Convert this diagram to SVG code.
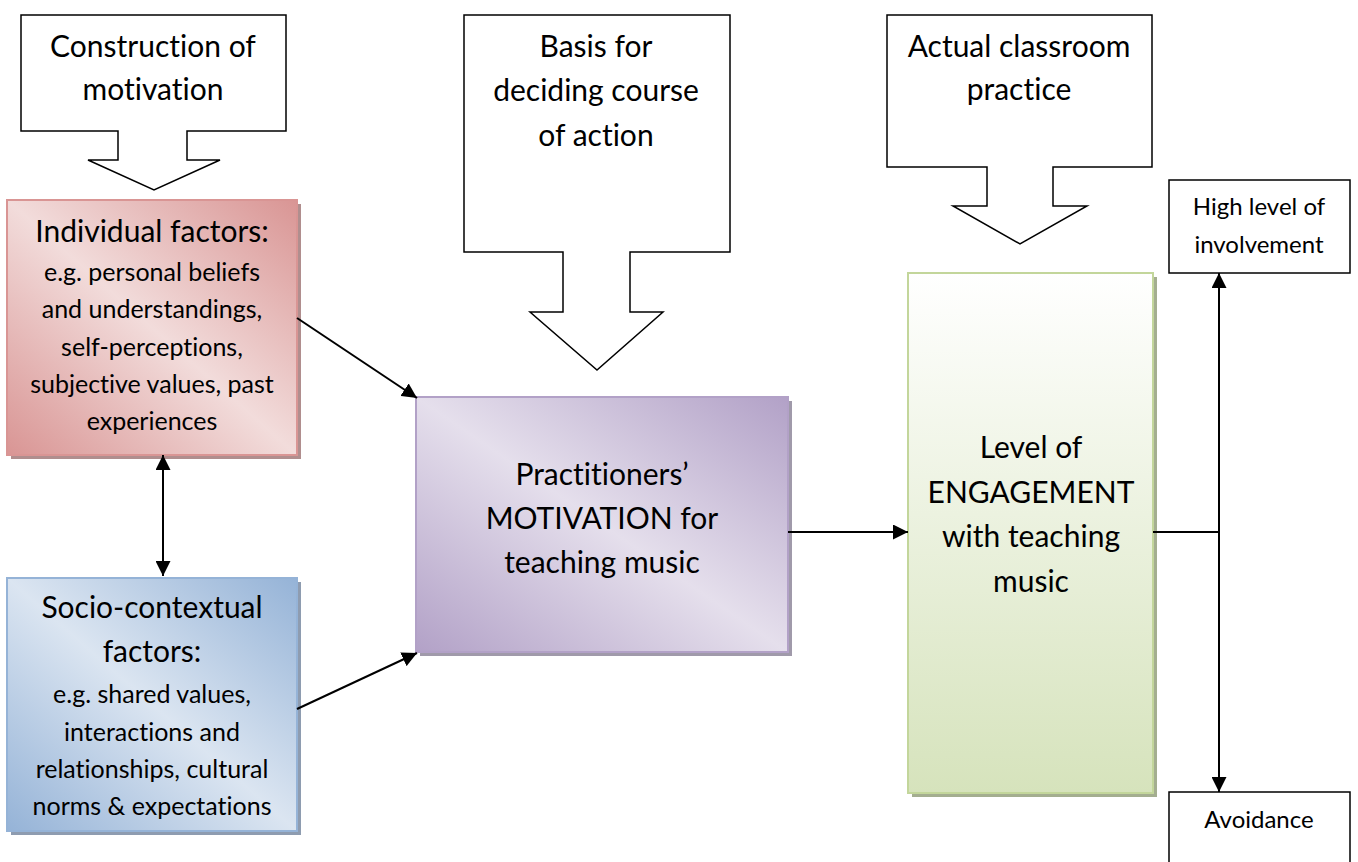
<svg xmlns="http://www.w3.org/2000/svg" width="1358" height="862" viewBox="0 0 1358 862">
<defs>
<style>
text{font-family:Lato,"Open Sans","Liberation Sans",sans-serif;fill:#000;text-anchor:middle;font-variant-ligatures:none;font-feature-settings:"liga" 0,"dlig" 0}
.big{font-size:30px}
.sub{font-size:25px}
.side{font-size:24px}
.callout{fill:#fff;stroke:#000;stroke-width:1.5;stroke-linejoin:miter}
.plain{fill:#fff;stroke:#000;stroke-width:1.5}
.conn{stroke:#000;stroke-width:2;fill:none}
</style>
<linearGradient id="gRed" x1="1" y1="0" x2="0" y2="1">
<stop offset="0" stop-color="#D99594"/><stop offset="0.5" stop-color="#F2DCDB"/><stop offset="1" stop-color="#D99594"/>
</linearGradient>
<linearGradient id="gPurple" x1="1" y1="0" x2="0" y2="1">
<stop offset="0" stop-color="#B2A1C7"/><stop offset="0.5" stop-color="#E5DFEC"/><stop offset="1" stop-color="#B2A1C7"/>
</linearGradient>
<linearGradient id="gBlue" x1="1" y1="0" x2="0" y2="1">
<stop offset="0" stop-color="#95B3D7"/><stop offset="0.5" stop-color="#DBE5F1"/><stop offset="1" stop-color="#95B3D7"/>
</linearGradient>
<linearGradient id="gGreen" x1="0" y1="0" x2="0" y2="1">
<stop offset="0" stop-color="#FFFFFF"/><stop offset="1" stop-color="#D6E3BC"/>
</linearGradient>
<marker id="ahb" viewBox="0 0 10 10" refX="10" refY="5" markerWidth="7.5" markerHeight="7.5" orient="auto-start-reverse">
<path d="M0,0 L10,5 L0,10 z" fill="#000"/>
</marker>
</defs>

<g id="callout-construction">
<path class="callout" d="M21,15 H286 V131 H187 V160 H220 L154,190 L88,160 H118 V131 H21 Z"/>
<text class="big" x="153" y="57">Construction of</text>
<text class="big" x="153" y="100">motivation</text>
</g>

<g id="callout-basis">
<path class="callout" d="M464,15 H730 V252 H630 V312 H663 L597,370 L530,312 H563 V252 H464 Z"/>
<text class="big" x="596" y="57">Basis for</text>
<text class="big" x="596" y="101">deciding course</text>
<text class="big" x="596" y="146">of action</text>
</g>

<g id="callout-actual">
<path class="callout" d="M887,15 H1152 V167 H1053 V206 H1087 L1020,244 L953,206 H987 V167 H887 Z"/>
<text class="big" x="1019" y="57">Actual classroom</text>
<text class="big" x="1019" y="100">practice</text>
</g>

<g id="individual">
<rect x="11" y="204" width="290" height="255" fill="#B08E8E"/>
<rect x="7" y="200" width="290" height="255" fill="url(#gRed)" stroke="#D99594" stroke-width="2"/>
<text class="big" x="152" y="242">Individual factors:</text>
<text class="sub" x="152" y="281">e.g. personal beliefs</text>
<text class="sub" x="152" y="318">and understandings,</text>
<text class="sub" x="152" y="356">self-perceptions,</text>
<text class="sub" x="152" y="393">subjective values, past</text>
<text class="sub" x="152" y="430">experiences</text>
</g>

<g id="socio">
<rect x="11" y="582" width="290" height="253" fill="#8E9CB0"/>
<rect x="7" y="578" width="290" height="253" fill="url(#gBlue)" stroke="#95B3D7" stroke-width="2"/>
<text class="big" x="152" y="618">Socio-contextual</text>
<text class="big" x="152" y="662">factors:</text>
<text class="sub" x="152" y="703">e.g. shared values,</text>
<text class="sub" x="152" y="741">interactions and</text>
<text class="sub" x="152" y="778">relationships, cultural</text>
<text class="sub" x="152" y="815">norms &amp; expectations</text>
</g>

<g id="motivation">
<rect x="420" y="401" width="372" height="255" fill="#A09AAA"/>
<rect x="416" y="397" width="372" height="255" fill="url(#gPurple)" stroke="#B2A1C7" stroke-width="2"/>
<text class="big" x="602" y="485">Practitioners’</text>
<text class="big" x="602" y="529">MOTIVATION for</text>
<text class="big" x="602" y="573">teaching music</text>
</g>

<g id="engagement">
<rect x="912" y="277" width="245" height="520" fill="#A4AE90"/>
<rect x="908" y="273" width="245" height="520" fill="url(#gGreen)" stroke="#C3D69B" stroke-width="2"/>
<text class="big" x="1031" y="458">Level of</text>
<text class="big" x="1031" y="503">ENGAGEMENT</text>
<text class="big" x="1031" y="547">with teaching</text>
<text class="big" x="1031" y="592">music</text>
</g>

<g id="high">
<rect class="plain" x="1169" y="180" width="181" height="93"/>
<text class="side" x="1259" y="215">High level of</text>
<text class="side" x="1259" y="253">involvement</text>
</g>

<g id="avoidance">
<rect class="plain" x="1169" y="792" width="181" height="80"/>
<text class="side" x="1259" y="828">Avoidance</text>
</g>

<g id="connectors">
<line class="conn" x1="297" y1="318" x2="417" y2="398" marker-end="url(#ahb)"/>
<line class="conn" x1="297" y1="709" x2="417" y2="653" marker-end="url(#ahb)"/>
<line class="conn" x1="163" y1="455" x2="163" y2="576" marker-start="url(#ahb)" marker-end="url(#ahb)"/>
<line class="conn" x1="788" y1="532" x2="908" y2="532" marker-end="url(#ahb)"/>
<line class="conn" x1="1153" y1="532" x2="1219" y2="532" stroke-width="1.5"/>
<line class="conn" x1="1219" y1="273" x2="1219" y2="792" marker-start="url(#ahb)" marker-end="url(#ahb)"/>
</g>
</svg>
